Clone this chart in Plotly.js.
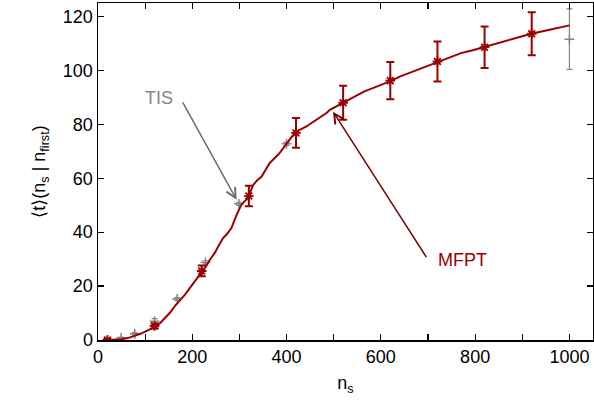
<!DOCTYPE html>
<html>
<head>
<meta charset="utf-8">
<script src="https://cdn.plot.ly/plotly-3.0.1.min.js"></script>
<style>html,body{margin:0;padding:0;background:#fff}#chart{width:594px;height:403px}</style>
</head>
<body>
<div id="chart"></div>
<script>
// MFPT curve (dense line)
var curveX = [20, 35, 50, 65, 78, 90, 100, 111, 121, 132, 142, 153, 163, 174, 184, 193, 202, 211, 220, 229, 237, 248, 256, 265, 274, 283, 294, 304, 311, 318, 329, 338, 347, 355, 364, 375, 386, 395, 403, 412, 421, 432, 442, 453, 463, 474, 484, 492, 506, 520, 534, 548, 565, 583, 601, 619, 640, 668, 695, 721, 746, 770, 795, 820, 845, 869, 894, 919, 958, 1000];
var curveY = [0, 0.05, 0.25, 0.8, 1.5, 2.3, 3.1, 4.0, 4.9, 6.3, 8.0, 10.2, 12.6, 14.6, 16.7, 18.9, 21.0, 22.8, 24.8, 27.3, 29.7, 32.4, 35.0, 37.7, 39.4, 41.5, 46.4, 50.1, 51.5, 52.6, 57.5, 59.3, 60.6, 63.0, 65.6, 67.5, 69.5, 71.6, 73.6, 75.6, 77.3, 78.2, 79.2, 80.5, 81.7, 82.9, 84.1, 85.4, 86.7, 88.1, 89.6, 90.9, 92.2, 93.4, 94.6, 95.9, 97.7, 99.6, 101.5, 103.3, 104.9, 106.4, 107.5, 108.7, 109.9, 111.1, 112.4, 113.6, 115.1, 116.7];

// MFPT points with error bars
var mfptX = [20, 120, 220, 320, 420, 520, 620, 720, 820, 920];
var mfptY = [0, 5.2, 25.6, 53.4, 76.8, 88.0, 96.2, 103.3, 108.6, 113.6];
var mfptErr = [0.4, 0.9, 2.0, 3.8, 5.5, 6.3, 6.9, 7.4, 7.7, 8.0];

// TIS points with error bars
var tisX = [20, 49, 78, 120, 168, 228, 299, 400, 1000];
var tisY = [0, 0.8, 2.3, 7.0, 15.2, 28.8, 50.5, 72.8, 111.6];
var tisErr = [0.2, 0.3, 0.4, 0.9, 0.5, 0.6, 0.6, 0.6, 11.2];

var red = '#9a0000';
var gray = '#858585';
var font = 'Liberation Sans, Arial, Helvetica, sans-serif';

var traces = [
  {x: tisX, y: tisY, type: 'scatter', mode: 'markers',
   marker: {symbol: 'cross-thin-open', size: 7, color: gray, line: {color: gray, width: 1.5}},
   error_y: {type: 'data', array: tisErr, visible: true, color: gray, thickness: 1.2, width: 3},
   showlegend: false, hoverinfo: 'skip'},
  {x: curveX, y: curveY, type: 'scatter', mode: 'lines',
   line: {color: red, width: 2}, showlegend: false, hoverinfo: 'skip'},
  {x: mfptX, y: mfptY, type: 'scatter', mode: 'markers',
   marker: {symbol: 'asterisk-open', size: 8, color: red, line: {color: red, width: 1.8}},
   error_y: {type: 'data', array: mfptErr, visible: true, color: red, thickness: 2, width: 4},
   showlegend: false, hoverinfo: 'skip'}
];

var layout = {
  width: 594, height: 403,
  margin: {l: 98, r: 1, t: 3, b: 63},
  paper_bgcolor: '#fff', plot_bgcolor: '#fff',
  font: {family: font, size: 18, color: '#000'},
  showlegend: false,
  xaxis: {
    range: [0, 1050], tickmode: 'linear', tick0: 0, dtick: 200,
    ticks: 'inside', ticklen: 6, tickwidth: 1.2, tickcolor: '#000',
    minor: {tick0: 0, dtick: 100, ticks: 'inside', ticklen: 6, tickwidth: 1.2, tickcolor: '#000', showgrid: false},
    showline: true, linecolor: '#000', linewidth: 1.5, mirror: 'allticks',
    showgrid: false, zeroline: false,
    tickfont: {family: font, size: 18},
    title: {text: 'n<sub>s</sub>', font: {family: font, size: 18}, standoff: 10}
  },
  yaxis: {
    range: [0, 125], tickmode: 'linear', tick0: 0, dtick: 20,
    ticks: 'inside', ticklen: 6, tickwidth: 1.2, tickcolor: '#000',
    showline: true, linecolor: '#000', linewidth: 1.5, mirror: 'allticks',
    showgrid: false, zeroline: false,
    tickfont: {family: font, size: 18},
    title: {text: '\u27E8t\u27E9(n<sub>s</sub> | n<sub>first</sub>)', font: {family: font, size: 18}, standoff: 12}
  },
  annotations: [
    {x: 129, y: 89.8, xref: 'x', yref: 'y', text: 'TIS', showarrow: false,
     font: {family: font, size: 18, color: gray}},
    {x: 294, y: 52, xref: 'x', yref: 'y', ax: 178, ay: 88.7, axref: 'x', ayref: 'y',
     text: '', showarrow: true, arrowhead: 5, arrowsize: 1.3, arrowwidth: 1.5, arrowcolor: '#6e6e6e'},
    {x: 773, y: 29.7, xref: 'x', yref: 'y', text: 'MFPT', showarrow: false,
     font: {family: font, size: 18, color: red}},
    {x: 498.5, y: 84.7, xref: 'x', yref: 'y', ax: 698.5, ay: 30.2, axref: 'x', ayref: 'y',
     text: '', showarrow: true, arrowhead: 5, arrowsize: 1.3, arrowwidth: 1.5, arrowcolor: '#7a0000'}
  ]
};

Plotly.newPlot('chart', traces, layout, {staticPlot: true, displayModeBar: false});
</script>
</body>
</html>
